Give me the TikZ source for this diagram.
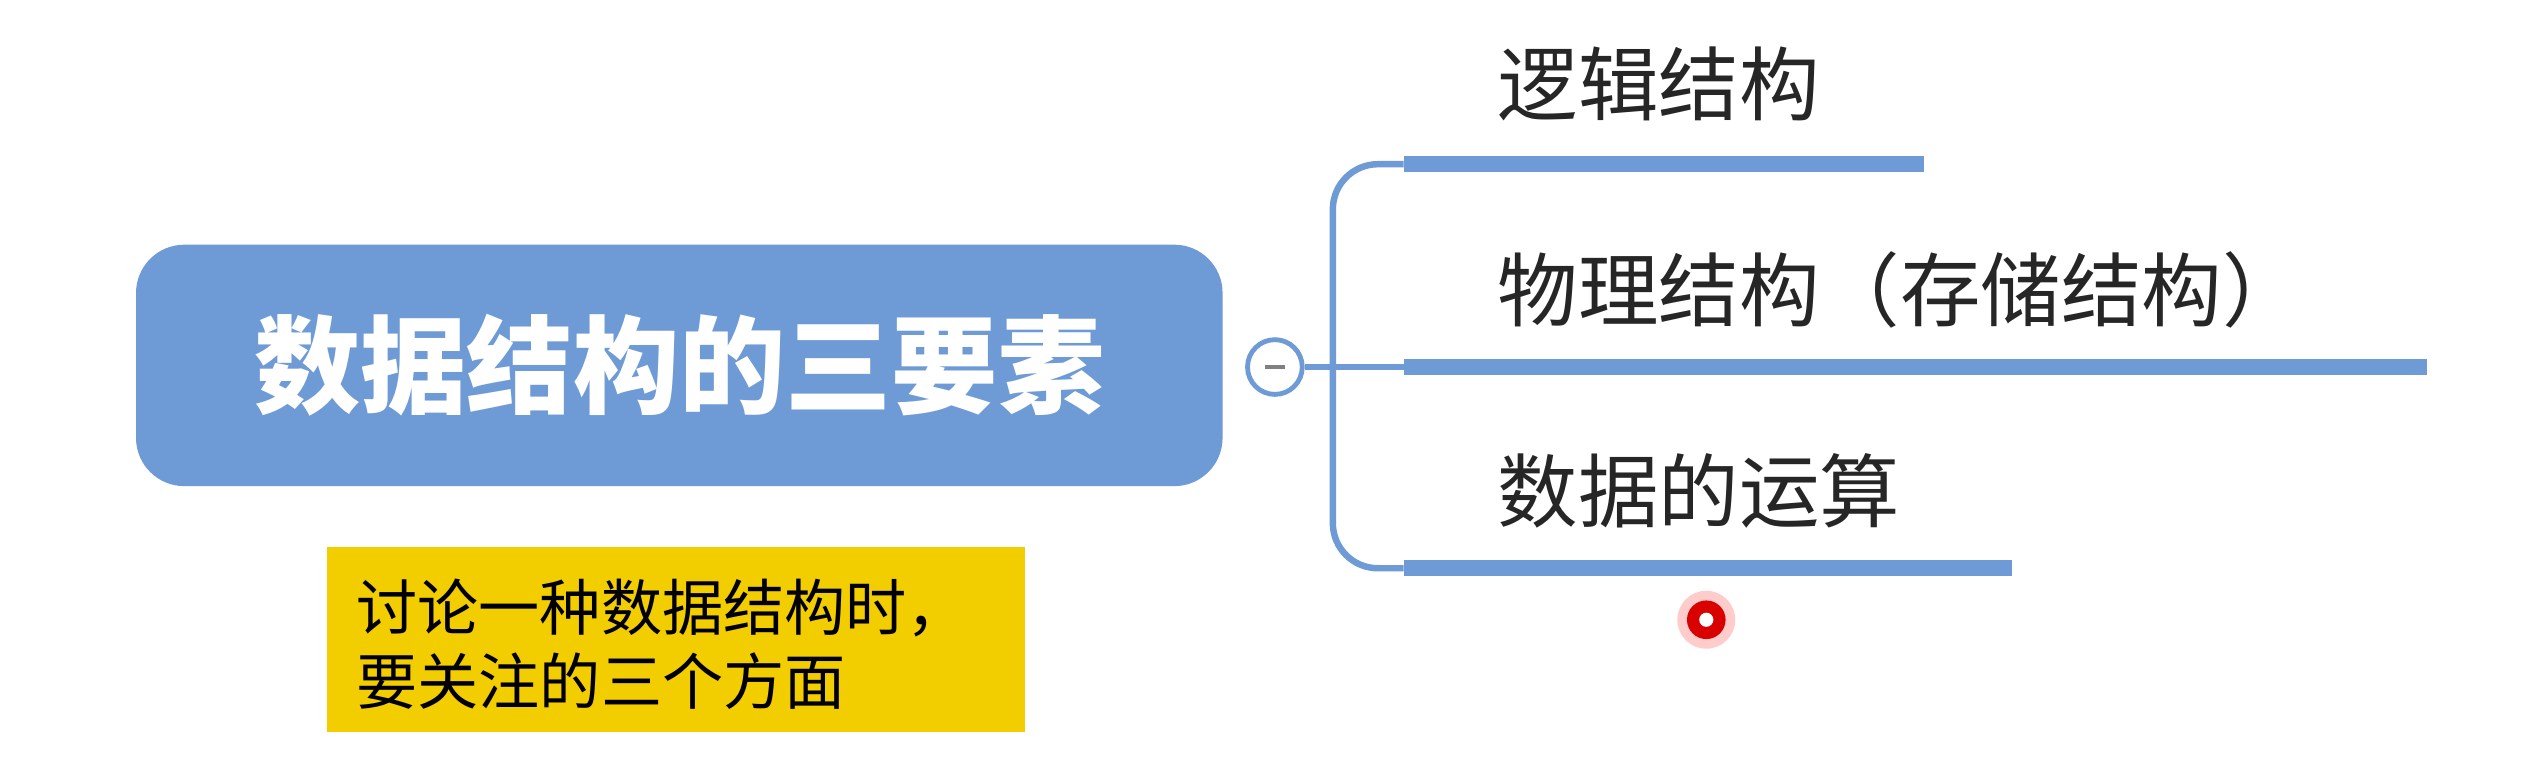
\documentclass[tikz,border=0pt]{standalone}
\usepackage{fontspec}
\setmainfont{Noto Sans CJK SC}
\definecolor{mblue}{HTML}{6E9BD5}
\definecolor{myel}{HTML}{F2CD00}
\tikzset{
  branch/.style={line width=5pt, mblue},
  conn/.style={line width=2pt, mblue, rounded corners=14},
  lbl/.style={anchor=west, inner sep=0pt, font=\fontsize{25}{30}\selectfont, text=black!85}
}
\begin{document}
\begin{tikzpicture}[x=0.5pt,y=-0.5pt]
\useasboundingbox (0,0) rectangle (1568,473);
\fill[white] (0,0) rectangle (1568,473);
\node[fill=mblue, rounded corners=15pt, minimum width=337.5pt, minimum height=75pt, inner sep=0pt,
  text=white, font=\fontsize{33}{36}\selectfont\bfseries] (main) at (422,227) {数据结构的三要素};
\node[circle, draw=mblue, line width=1.5pt, fill=white, minimum size=17pt, inner sep=0pt] (col) at (792,228) {};
\draw[gray, line width=1.5pt] (786,228) -- (798,228);
\coordinate (b1) at (872,102);
\coordinate (b2) at (872,228);
\coordinate (b3) at (872,353);
\draw[conn] (col.east) -- (b2);
\draw[conn] (b1) -| (828,228) |- (b3);
\draw[branch] (b1) -- (1195,102);
\draw[branch] (b2) -- (1508,228);
\draw[branch] (b3) -- (1250,353);
\node[lbl] (t1) at (930,52) {逻辑结构};
\node[lbl] (t2) at (930,180) {物理结构（存储结构）};
\node[lbl] (t3) at (930,305) {数据的运算};
\node[fill=myel, minimum width=217pt, minimum height=57.5pt, inner sep=0pt] (note) at (420,397) {};
\node[anchor=west, inner sep=0pt, align=left, font=\fontsize{19}{23}\selectfont] (nt) at (221,400) {讨论一种数据结构时，\\要关注的三个方面};
\fill[red!20] (1060,385) circle (9pt);
\fill[red!85!black] (1060,385) circle (6pt);
\fill[white] (1060,385) circle (2.2pt);
\end{tikzpicture}
\end{document}
